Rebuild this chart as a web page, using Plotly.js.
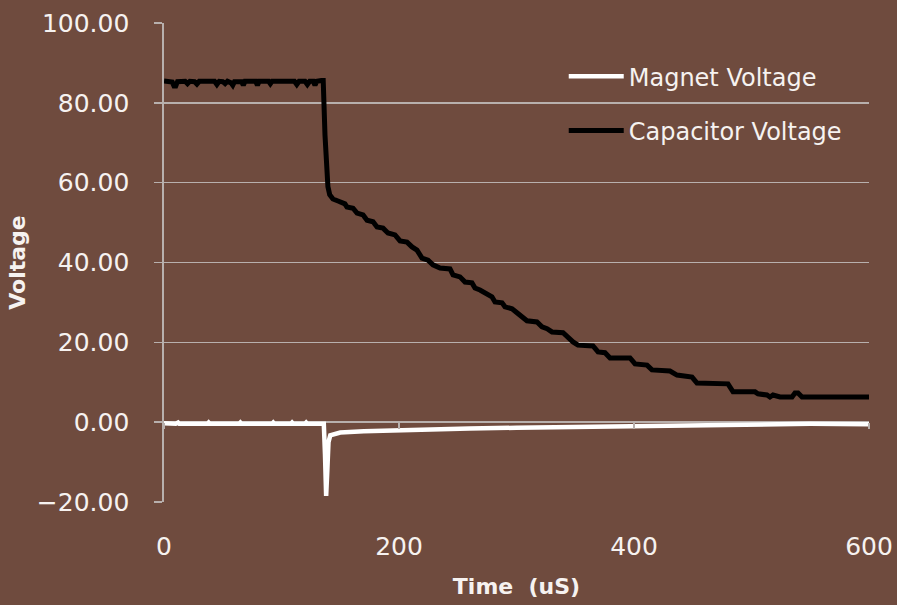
<!DOCTYPE html>
<html>
<head>
<meta charset="utf-8">
<script src="https://cdn.plot.ly/plotly-3.0.1.min.js"></script>
<style>html,body{margin:0;padding:0;background:#6f4b3e;}#chart{width:897px;height:605px;}</style>
</head>
<body>
<div id="chart"></div>
<script>
// Capacitor Voltage (time in uS, voltage in V)
var capTime = [0,5,7,8.5,10,11.5,18,20,22,26,28,30,43,45,47,50,52,54,57,58.5,60,66,67.5,69,78,79.5,81,89,90.5,92,111,113,115,120,122,124,127,128.5,130,134,135.5,
  137,138,139.5,141,142.5,
  143.8,148.1,154.0,155.7,160.9,164.3,169.4,172.8,177.9,181.3,186.4,190.6,196.6,200.9,206.8,211.1,215.3,219.6,224.7,228.9,234.9,243.4,
  246.0,251.9,256.2,262.1,264.7,268.9,274.9,279.1,281.7,287.7,290.2,296.2,300.4,304.7,308.9,317.4,321.7,326.0,330.2,339.6,343.8,348.1,
  352.3,365.1,369.4,375.3,379.6,396.6,400.9,411.1,415.3,430.6,436.6,449.4,453.6,480.0,484.3,503.0,505.5,513.2,515.7,518.3,524.3,534.5,
  537.0,539.6,543.0,600];
var capVolt = [85.5,85.5,85.2,84.2,84.2,85.3,85.4,84.8,85.4,85.3,84.7,85.4,85.4,84.6,85.4,85.3,84.8,85.4,85.0,84.4,85.3,85.3,84.4,85.4,85.4,84.4,85.4,85.4,84.8,85.4,85.4,84.6,85.4,85.4,84.6,85.4,85.4,84.4,85.4,85.6,85.6,
  72,64,59,57,56.3,
  55.9,55.4,54.7,53.9,53.6,52.4,51.9,50.6,50.2,48.9,48.6,47.4,46.9,45.4,45.1,43.9,43.1,41.1,40.6,39.4,38.6,38.4,
  36.9,36.4,35.1,34.9,33.6,33.1,31.9,31.4,30.1,29.9,28.9,28.4,27.4,26.4,25.4,25.1,23.9,23.4,22.6,22.4,21.1,20.1,
  19.3,19.1,17.6,17.4,16.1,16.1,14.6,14.3,13.1,12.8,11.8,11.3,9.8,9.6,7.6,7.6,7.1,6.8,6.3,6.8,6.3,6.3,
  7.3,7.3,6.3,6.3];

// Magnet Voltage
var magTime = [0,10,12,13,37,38,39,64,65,66,92,93,94,108,109,110,120,121,122,136,137,138,139,140,141.5,145,150,170,200,230,260,300,350,370,400,450,500,550,600];
var magVolt = [-0.3,-0.4,-0.1,-0.4,-0.4,-0.1,-0.4,-0.4,-0.1,-0.4,-0.4,-0.1,-0.4,-0.4,-0.1,-0.4,-0.4,-0.1,-0.4,-0.4,-8,-18.5,-12,-5,-3.3,-3.0,-2.6,-2.3,-2.0,-1.8,-1.6,-1.4,-1.2,-1.0,-0.9,-0.6,-0.5,-0.4,-0.5];

var seriesNames = ['Magnet Voltage', 'Capacitor Voltage'];
var xTicks = [0,200,400,600];
var yTicks = [-20,0,20,40,60,80,100];

var bg = '#6f4b3e', grid = '#b8b0ad', txt = '#f6f2f0';
var font = 'DejaVu Sans, Verdana, sans-serif';

var traces = [
  {x: magTime, y: magVolt, name: seriesNames[0], mode: 'lines', legendgroup: 'a',
   line: {color: '#ffffff', width: 4.5}},
  {x: capTime, y: capVolt, name: seriesNames[1], mode: 'lines', legendgroup: 'b',
   line: {color: '#000000', width: 5}},
  {x: [], y: [], xaxis: 'x2', showlegend: false, hoverinfo: 'skip'}
];

var layout = {
  width: 897, height: 605,
  paper_bgcolor: bg, plot_bgcolor: bg,
  margin: {l: 164, r: 28, t: 23, b: 103},
  font: {family: font, color: txt, size: 24},
  showlegend: true,
  legend: {x: 0.567, y: 0.935, xanchor: 'left', yanchor: 'top', bgcolor: 'rgba(0,0,0,0)',
    font: {family: font, color: txt, size: 24}, traceorder: 'grouped', tracegroupgap: 20, itemwidth: 55},
  xaxis: {range: [0, 600], tickvals: xTicks, ticks: '', showgrid: false, zeroline: false, showline: false,
    tickfont: {family: font, size: 25, color: txt}, ticklabelstandoff: 27,
    title: {text: 'Time\u00a0\u00a0(uS)', font: {family: font, size: 22, color: txt, weight: 'bold'}, standoff: 18}},
  xaxis2: {range: [0, 600], overlaying: 'x', anchor: 'free', position: 20/120, tickvals: xTicks,
    ticks: 'outside', ticklen: 6, tickcolor: grid, tickwidth: 1.5, showticklabels: false, showgrid: false,
    zeroline: false, showline: false},
  yaxis: {range: [-20, 100], tickvals: yTicks, tickformat: '.2f', showgrid: true, gridcolor: grid, gridwidth: 1.6,
    zeroline: true, zerolinecolor: grid, zerolinewidth: 1.6, showline: true, linecolor: grid, linewidth: 1.6,
    ticks: 'outside', ticklen: 8, tickcolor: grid, tickwidth: 1.6,
    tickfont: {family: font, size: 25, color: txt}, ticklabelstandoff: 20,
    title: {text: 'Voltage', font: {family: font, size: 22, color: txt, weight: 'bold'}, standoff: 5}}
};

Plotly.newPlot('chart', traces, layout, {displayModeBar: false, staticPlot: true});
</script>
</body>
</html>
